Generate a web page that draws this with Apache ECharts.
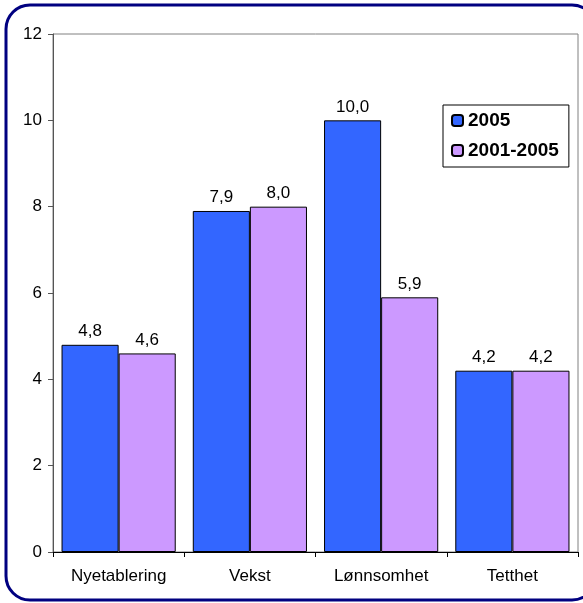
<!DOCTYPE html>
<html>
<head>
<meta charset="utf-8">
<script src="https://cdn.jsdelivr.net/npm/echarts@6/dist/echarts.min.js"></script>
<style>
  html, body { margin: 0; padding: 0; background: #fff; }
  #chart { width: 583px; height: 603px; }
</style>
</head>
<body>
<div id="chart"></div>
<script>
// data
var categories = ['Nyetablering', 'Vekst', 'Lønnsomhet', 'Tetthet'];
var seriesNames = ['2005', '2001-2005'];
var values2005 = [4.8, 7.9, 10.0, 4.2];
var values2001_2005 = [4.6, 8.0, 5.9, 4.2];
var yTicks = [0, 2, 4, 6, 8, 10, 12];

var chart = echarts.init(document.getElementById('chart'));

// norsk desimalkomma
function komma(p) {
  return p.value.toFixed(1).replace('.', ',');
}

var barLabel = {
  show: true,
  position: 'top',
  distance: 5,
  color: '#000',
  fontSize: 17,
  fontFamily: 'Liberation Sans, Arial, sans-serif',
  formatter: komma
};

var option = {
  animation: false,
  backgroundColor: '#fff',
  textStyle: { fontFamily: 'Liberation Sans, Arial, sans-serif' },
  graphic: [{
    type: 'rect',
    shape: { x: 6, y: 5, width: 590, height: 595, r: 24 },
    style: { fill: 'none', stroke: '#000080', lineWidth: 3 },
    z: 100
  }],
  grid: {
    left: 53, right: 5, top: 34, bottom: 51,
    show: true,
    borderColor: '#808080',
    borderWidth: 1
  },
  legend: {
    orient: 'vertical',
    left: 443,
    top: 105,
    padding: [6, 10, 7, 8],
    itemGap: 11,
    itemWidth: 11,
    itemHeight: 11,
    borderColor: '#000',
    borderWidth: 1,
    textStyle: { color: '#000', fontSize: 19, fontWeight: 'bold' },
    data: seriesNames
  },
  xAxis: {
    type: 'category',
    data: categories,
    axisLine: { lineStyle: { color: '#000', width: 1 } },
    axisTick: { show: true, length: 5, lineStyle: { color: '#000' } },
    axisLabel: { color: '#000', fontSize: 17, margin: 16 }
  },
  yAxis: {
    type: 'value',
    min: yTicks[0],
    max: yTicks[yTicks.length - 1],
    interval: 2,
    axisLine: { show: true, lineStyle: { color: '#555', width: 1 } },
    axisTick: { show: true, length: 5, lineStyle: { color: '#555' } },
    axisLabel: { color: '#000', fontSize: 17, margin: 11 },
    splitLine: { show: false }
  },
  series: [
    {
      name: seriesNames[0],
      type: 'bar',
      data: values2005,
      barGap: '0%',
      barCategoryGap: '13%',
      itemStyle: { color: '#3366FF', borderColor: '#000', borderWidth: 1 },
      label: barLabel
    },
    {
      name: seriesNames[1],
      type: 'bar',
      data: values2001_2005,
      itemStyle: { color: '#CC99FF', borderColor: '#000', borderWidth: 1 },
      label: barLabel
    }
  ]
};

chart.setOption(option);
</script>
</body>
</html>
